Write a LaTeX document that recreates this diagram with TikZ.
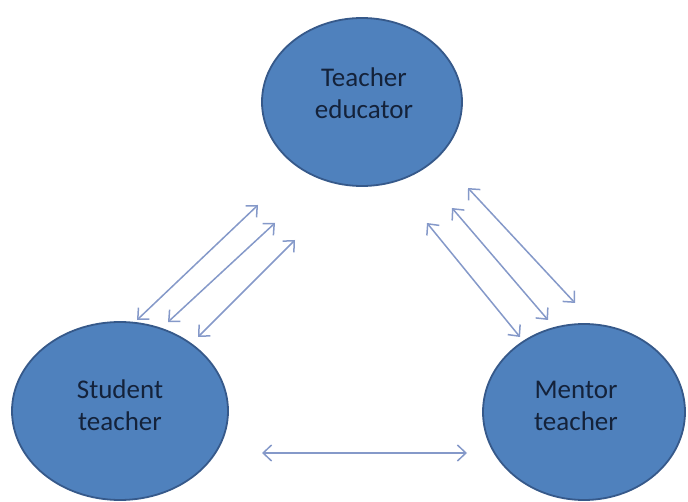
\documentclass[tikz,border=0pt]{standalone}
\usepackage{fontspec}
\setmainfont{Carlito}
\usetikzlibrary{arrows.meta,shapes.geometric}
\definecolor{ellfill}{HTML}{4F81BD}
\definecolor{elldraw}{HTML}{36598A}
\definecolor{txtcol}{HTML}{14223A}
\definecolor{arrcol}{HTML}{8599C9}
\begin{document}
\begin{tikzpicture}[x=1pt,y=-1pt,
  role/.style={ellipse, fill=ellfill, draw=elldraw, line width=1.8pt, inner sep=0pt},
  rolelabel/.style={text=txtcol, font=\fontsize{27}{32}\selectfont, align=center, inner sep=0pt},
  link/.style={draw=arrcol, line width=1.5pt, {Straight Barb[length=8.5pt,width=16pt,line width=1.5pt]}-{Straight Barb[length=8.5pt,width=16pt,line width=1.5pt]}}
]
\useasboundingbox (0,0) rectangle (688,502);
\node[role, minimum width=200pt, minimum height=168pt] (te) at (362,102) {};
\node[role, minimum width=216pt, minimum height=178pt] (st) at (120,411) {};
\node[role, minimum width=202pt, minimum height=176pt] (mt) at (584,412) {};
\node[rolelabel] (tel) at (364,93) {Teacher\\educator};
\node[rolelabel] (stl) at (120,405) {Student\\teacher};
\node[rolelabel] (mtl) at (576,406) {Mentor\\teacher};
% left group
\coordinate (l1a) at (137,320); \coordinate (l1b) at (258,205);
\coordinate (l2a) at (168,322); \coordinate (l2b) at (275,223);
\coordinate (l3a) at (198,337); \coordinate (l3b) at (295,240);
\draw[link] (l1a) -- (l1b);
\draw[link] (l2a) -- (l2b);
\draw[link] (l3a) -- (l3b);
% right group
\coordinate (r1a) at (468,188); \coordinate (r1b) at (575,303);
\coordinate (r2a) at (452,208); \coordinate (r2b) at (548,320);
\coordinate (r3a) at (427,223); \coordinate (r3b) at (520,337);
\draw[link] (r1a) -- (r1b);
\draw[link] (r2a) -- (r2b);
\draw[link] (r3a) -- (r3b);
% bottom
\coordinate (ba) at (262,453); \coordinate (bb) at (467,453);
\draw[link] (ba) -- (bb);
\end{tikzpicture}
\end{document}
